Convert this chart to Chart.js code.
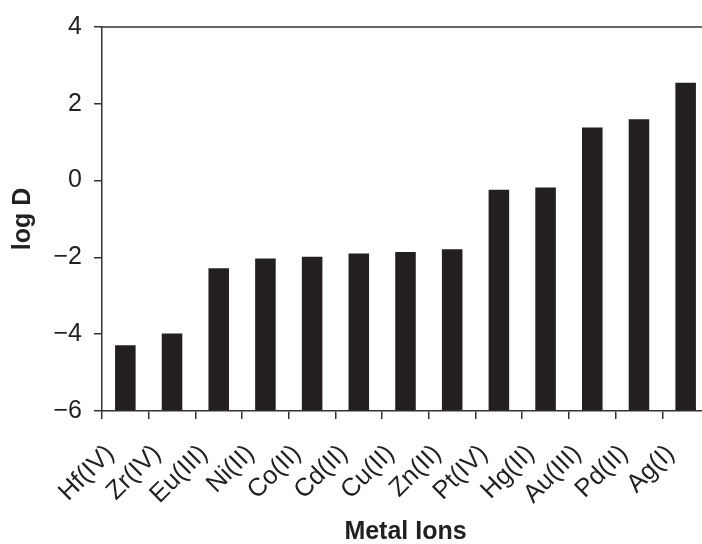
<!DOCTYPE html>
<html>
<head>
<meta charset="utf-8">
<script src="https://cdn.jsdelivr.net/npm/chart.js@4.4.1/dist/chart.umd.min.js"></script>
<style>
html,body{margin:0;padding:0;background:#fff;overflow:hidden;width:702px;height:544px}
#wrap{position:relative;width:710px;height:544px}
canvas{display:block}
</style>
</head>
<body>
<div id="wrap"><canvas id="c" width="710" height="544"></canvas></div>
<script>
const categories = ['Hf(IV)','Zr(IV)','Eu(III)','Ni(II)','Co(II)','Cd(II)','Cu(II)','Zn(II)','Pt(IV)','Hg(II)','Au(III)','Pd(II)','Ag(I)'];
const logD = [-4.29, -3.98, -2.28, -2.03, -1.98, -1.90, -1.86, -1.79, -0.24, -0.18, 1.38, 1.60, 2.55];
const yTicks = [-6, -4, -2, 0, 2, 4];
const xTitle = 'Metal Ions';
const yTitle = 'log D';

const INK = '#231f20';
const AXIS = '#333333';
const FONT = "'Liberation Sans', Arial, Helvetica, sans-serif";

const frameTop = {
  id: 'frameTop',
  afterDraw(chart) {
    const {ctx, chartArea} = chart;
    ctx.save();
    ctx.strokeStyle = AXIS;
    ctx.lineWidth = 1.5;
    ctx.beginPath();
    ctx.moveTo(chartArea.left, chartArea.top);
    ctx.lineTo(chartArea.right + 2, chartArea.top);
    ctx.stroke();
    ctx.restore();
  }
};

new Chart(document.getElementById('c'), {
  type: 'bar',
  data: {
    labels: categories,
    datasets: [{
      data: logD,
      base: yTicks[0],
      backgroundColor: INK,
      borderWidth: 0,
      barPercentage: 0.44,
      categoryPercentage: 1.0
    }]
  },
  options: {
    responsive: false,
    animation: false,
    devicePixelRatio: 1,
    layout: { padding: { left: 0, right: 1, top: 25, bottom: 0 } },
    plugins: { legend: { display: false }, title: { display: false }, tooltip: { enabled: false } },
    scales: {
      x: {
        type: 'category',
        offset: true,
        grid: { display: true, drawOnChartArea: false, drawTicks: true, tickLength: 8, offset: true, color: AXIS, lineWidth: 1.5 },
        border: { display: true, color: AXIS, width: 1.5 },
        ticks: {
          autoSkip: false, minRotation: 45, maxRotation: 45,
          padding: 20, labelOffset: -15,
          color: INK,
          font: { family: FONT, size: 25.5, lineHeight: 1.2 }
        },
        title: {
          display: true, text: xTitle, color: INK,
          font: { family: FONT, size: 25, weight: 'bold', lineHeight: 0.95 },
          padding: { top: 0, bottom: 0 }
        },
        afterFit(s) { s.height = 133; s.paddingLeft = 0; s.paddingRight = 0; }
      },
      y: {
        min: yTicks[0], max: yTicks[yTicks.length - 1],
        afterBuildTicks(s) { s.ticks = yTicks.map(v => ({ value: v })); },
        grid: { display: true, drawOnChartArea: false, drawTicks: true, tickLength: 8, color: AXIS, lineWidth: 1.5 },
        border: { display: true, color: AXIS, width: 1.5 },
        ticks: {
          padding: 12, color: INK,
          font: { family: FONT, size: 25 },
          callback: v => (v < 0 ? '\u2212' + Math.abs(v) : String(v))
        },
        title: {
          display: true, text: yTitle, color: INK,
          font: { family: FONT, size: 25, weight: 'bold', lineHeight: 1.2 },
          padding: { top: 8, bottom: 0 }
        },
        afterFit(s) { s.width = 102; }
      }
    }
  },
  plugins: [frameTop]
});
</script>
</body>
</html>
